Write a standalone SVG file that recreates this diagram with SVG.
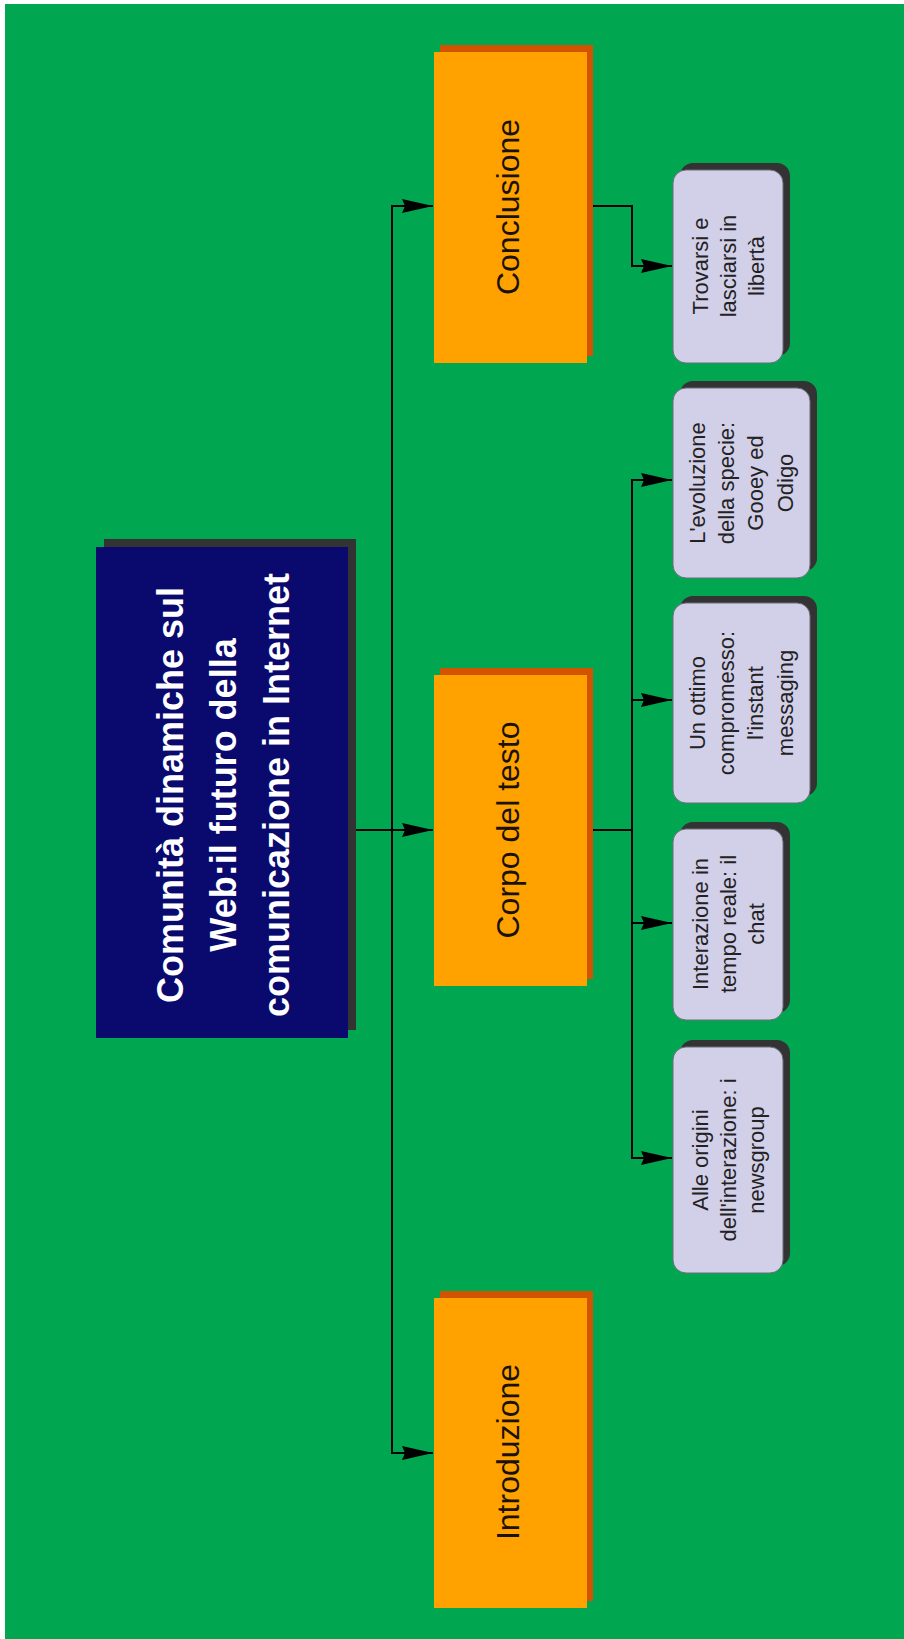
<svg xmlns="http://www.w3.org/2000/svg" width="904" height="1639" viewBox="0 0 904 1639">
<style>
.bg{fill:#00a650}
.oface{fill:#ffa200}
.oshadow{fill:#d25400}
.lface{fill:#d2cfe8;stroke:#6d6d7a;stroke-width:1}
.lshadow{fill:#333333}
.otext{font-family:"Liberation Sans",Arial,sans-serif;font-size:32px;fill:#1a1208;text-anchor:middle;dominant-baseline:central}
.ltext{font-family:"Liberation Sans",Arial,sans-serif;font-size:22px;fill:#222222;text-anchor:middle;dominant-baseline:central}
.mtext{font-family:"Liberation Sans",Arial,sans-serif;font-size:36px;font-weight:bold;fill:#ffffff;text-anchor:middle;dominant-baseline:central}
.conn{fill:none;stroke:#000000;stroke-width:2}
</style>
<defs>
<marker id="arr" markerUnits="userSpaceOnUse" markerWidth="32" markerHeight="18" viewBox="0 0 32 18" refX="31" refY="9" orient="auto">
<path d="M0,2 L31,9 L0,16 L3,9 Z" fill="#000000"/>
</marker>
</defs>
<rect x="0" y="0" width="904" height="1639" fill="#ffffff"/>
<rect class="bg" x="5" y="4" width="899" height="1635"/>

<g id="connectors">
<path class="conn" d="M356,830 L433,830" marker-end="url(#arr)"/>
<path class="conn" d="M392,830 L392,206 L433,206" marker-end="url(#arr)"/>
<path class="conn" d="M392,830 L392,1453 L433,1453" marker-end="url(#arr)"/>
<path class="conn" d="M593,206 L632,206 L632,266 L672,266" marker-end="url(#arr)"/>
<path class="conn" d="M593,830 L632,830"/>
<path class="conn" d="M632,830 L632,480 L672,480" marker-end="url(#arr)"/>
<path class="conn" d="M632,700 L672,700" marker-end="url(#arr)"/>
<path class="conn" d="M632,830 L632,923 L672,923" marker-end="url(#arr)"/>
<path class="conn" d="M632,923 L632,1158 L672,1158" marker-end="url(#arr)"/>
</g>

<g id="main">
<rect x="104" y="539" width="252" height="491" fill="#333333"/>
<rect x="96" y="547" width="252" height="491" fill="#0a0a6e"/>
<g transform="translate(223,795) rotate(-90)">
<text class="mtext"><tspan x="0" y="-53">Comunità dinamiche sul</tspan><tspan x="0" y="0">Web:il futuro della</tspan><tspan x="0" y="53">comunicazione in Internet</tspan></text>
</g>
</g>

<g id="conclusione">
<rect class="oshadow" x="440" y="45" width="153" height="311"/>
<rect class="oface" x="434" y="52" width="153" height="311"/>
<text class="otext" transform="translate(508,207) rotate(-90)">Conclusione</text>
</g>

<g id="corpo">
<rect class="oshadow" x="440" y="668" width="153" height="311"/>
<rect class="oface" x="434" y="675" width="153" height="311"/>
<text class="otext" transform="translate(508,830) rotate(-90)">Corpo del testo</text>
</g>

<g id="introduzione">
<rect class="oshadow" x="440" y="1291" width="153" height="310"/>
<rect class="oface" x="434" y="1298" width="153" height="310"/>
<text class="otext" transform="translate(508,1452) rotate(-90)">Introduzione</text>
</g>

<g id="trovarsi">
<rect class="lshadow" x="680" y="163" width="110" height="193" rx="13"/>
<rect class="lface" x="673" y="170" width="110" height="193" rx="13"/>
<g transform="translate(728,266) rotate(-90)">
<text class="ltext"><tspan x="0" y="-28">Trovarsi e</tspan><tspan x="0" y="0">lasciarsi in</tspan><tspan x="0" y="28">libertà</tspan></text>
</g>
</g>

<g id="evoluzione">
<rect class="lshadow" x="680" y="381" width="137" height="190" rx="13"/>
<rect class="lface" x="673" y="388" width="137" height="190" rx="13"/>
<g transform="translate(741,483) rotate(-90)">
<text class="ltext"><tspan x="0" y="-44">L'evoluzione</tspan><tspan x="0" y="-15">della specie:</tspan><tspan x="0" y="14">Gooey ed</tspan><tspan x="0" y="44">Odigo</tspan></text>
</g>
</g>

<g id="ottimo">
<rect class="lshadow" x="680" y="596" width="137" height="200" rx="13"/>
<rect class="lface" x="673" y="603" width="137" height="200" rx="13"/>
<g transform="translate(741,703) rotate(-90)">
<text class="ltext"><tspan x="0" y="-44">Un ottimo</tspan><tspan x="0" y="-15">compromesso:</tspan><tspan x="0" y="14">l'instant</tspan><tspan x="0" y="44">messaging</tspan></text>
</g>
</g>

<g id="interazione">
<rect class="lshadow" x="680" y="822" width="110" height="191" rx="13"/>
<rect class="lface" x="673" y="829" width="110" height="191" rx="13"/>
<g transform="translate(728,924) rotate(-90)">
<text class="ltext"><tspan x="0" y="-28">Interazione in</tspan><tspan x="0" y="0">tempo reale: il</tspan><tspan x="0" y="28">chat</tspan></text>
</g>
</g>

<g id="origini">
<rect class="lshadow" x="680" y="1040" width="110" height="226" rx="13"/>
<rect class="lface" x="673" y="1047" width="110" height="226" rx="13"/>
<g transform="translate(728,1160) rotate(-90)">
<text class="ltext"><tspan x="0" y="-28">Alle origini</tspan><tspan x="0" y="0">dell'interazione: i</tspan><tspan x="0" y="28">newsgroup</tspan></text>
</g>
</g>
</svg>
